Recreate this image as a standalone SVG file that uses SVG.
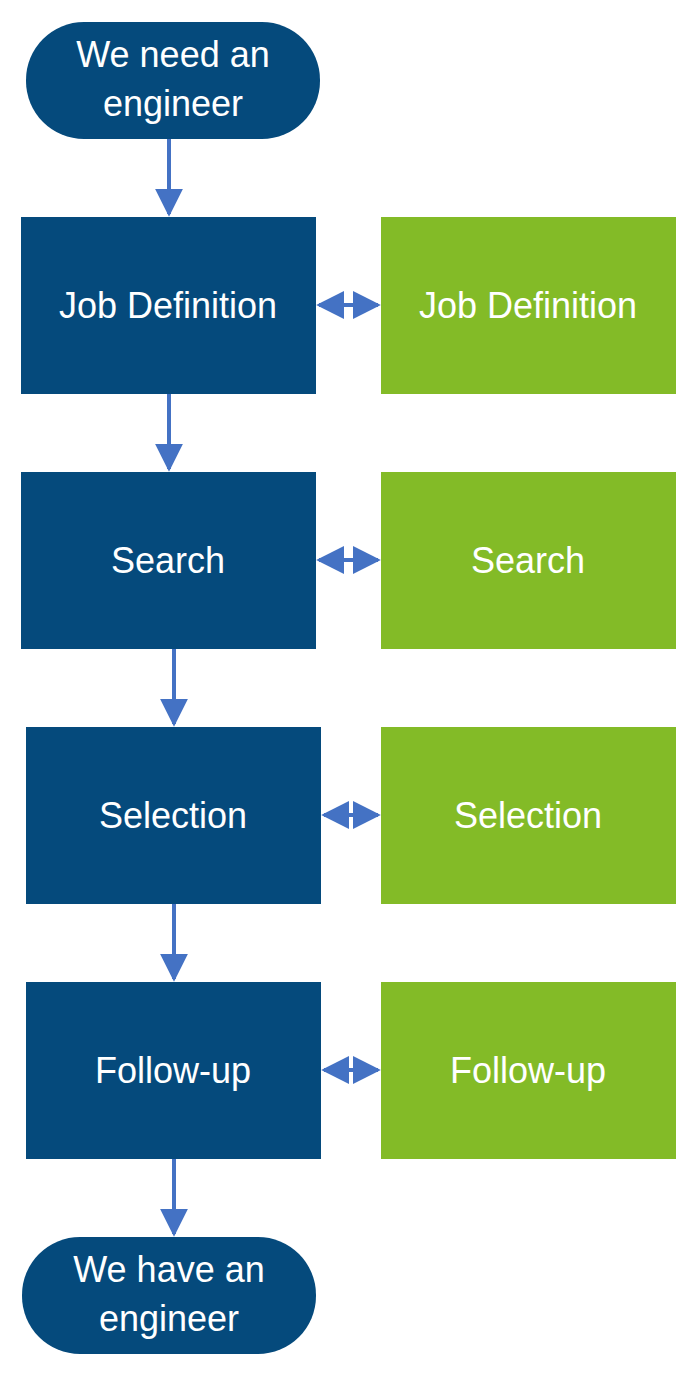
<svg xmlns="http://www.w3.org/2000/svg" width="697" height="1384" viewBox="0 0 697 1384">
<style>
.b{fill:#054A7C}.g{fill:#83BB27}
text{font-family:"Liberation Sans",Arial,sans-serif;font-size:36px;fill:#fff;text-anchor:middle}
.c{stroke:#4472C4;stroke-width:4;fill:none}
</style>
<defs>
<marker id="a" viewBox="0 0 10 10" refX="9" refY="5" markerWidth="6" markerHeight="6" markerUnits="userSpaceOnUse" orient="auto-start-reverse"><path d="M0,0 L10,5 L0,10 z" fill="#4472C4"/></marker>
<marker id="m" viewBox="0 0 10 10" refX="9" refY="5" markerWidth="7" markerHeight="7" orient="auto-start-reverse"><path d="M0,0 L10,5 L0,10 z" fill="#4472C4"/></marker>
</defs>
<g id="connectors">
<path class="c" d="M169,139 V214" marker-end="url(#m)"/>
<path class="c" d="M169,394 V469" marker-end="url(#m)"/>
<path class="c" d="M174,649 V724" marker-end="url(#m)"/>
<path class="c" d="M174,904 V979" marker-end="url(#m)"/>
<path class="c" d="M174,1159 V1234" marker-end="url(#m)"/>
<path class="c" d="M319,305 H378" marker-start="url(#m)" marker-end="url(#m)"/>
<path class="c" d="M319,560 H378" marker-start="url(#m)" marker-end="url(#m)"/>
<path class="c" d="M324,815 H378" marker-start="url(#m)" marker-end="url(#m)"/>
<path class="c" d="M324,1070 H378" marker-start="url(#m)" marker-end="url(#m)"/>
</g>
<g id="start"><rect class="b" x="26" y="22" width="294" height="117" rx="58"/><text x="173" y="67">We need an</text><text x="173" y="116">engineer</text></g>
<g id="jd"><rect class="b" x="21" y="217" width="295" height="177"/><text x="168" y="318">Job Definition</text></g>
<g id="jd2"><rect class="g" x="381" y="217" width="295" height="177"/><text x="528" y="318">Job Definition</text></g>
<g id="s"><rect class="b" x="21" y="472" width="295" height="177"/><text x="168" y="573">Search</text></g>
<g id="s2"><rect class="g" x="381" y="472" width="295" height="177"/><text x="528" y="573">Search</text></g>
<g id="sel"><rect class="b" x="26" y="727" width="295" height="177"/><text x="173" y="828">Selection</text></g>
<g id="sel2"><rect class="g" x="381" y="727" width="295" height="177"/><text x="528" y="828">Selection</text></g>
<g id="f"><rect class="b" x="26" y="982" width="295" height="177"/><text x="173" y="1083">Follow-up</text></g>
<g id="f2"><rect class="g" x="381" y="982" width="295" height="177"/><text x="528" y="1083">Follow-up</text></g>
<g id="end"><rect class="b" x="22" y="1237" width="294" height="117" rx="58"/><text x="169" y="1282">We have an</text><text x="169" y="1331">engineer</text></g>
</svg>
